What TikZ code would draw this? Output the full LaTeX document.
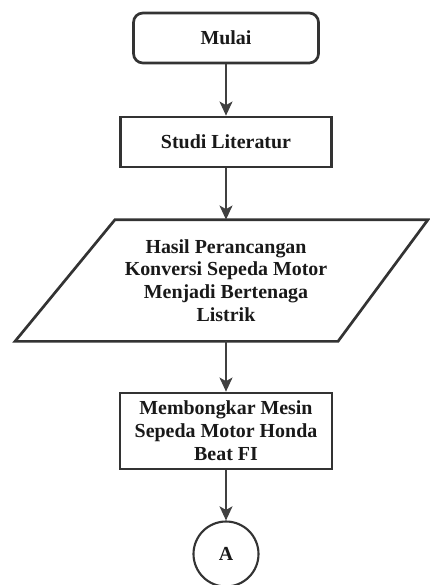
\documentclass[tikz,border=0pt]{standalone}
\usepackage{fontspec}
\setmainfont{Liberation Serif}
\usetikzlibrary{arrows.meta,calc}
\begin{document}
\begin{tikzpicture}[
    box/.style={draw=black!80,line width=2.3pt,fill=white,inner sep=0pt,align=center,
        font=\bfseries\fontsize{17}{19.5}\selectfont,text=black!90},
    arr/.style={draw=black!75,line width=1.8pt,-{Stealth[length=12pt,width=11pt,inset=3pt]}}
    ]
    \useasboundingbox (0,0) rectangle (12.87,-17.55);
    \node[box,rounded corners=8pt,minimum width=5.55cm,minimum height=1.5cm] (mulai) at (6.78,-1.14) {Mulai};
    \node[box,minimum width=6.33cm,minimum height=1.5cm] (studi) at (6.78,-4.26) {Studi Literatur};
    \node[box,draw=none,fill=none,minimum height=3.57cm] (hasil) at (6.78,-8.415)
        {Hasil Perancangan\\Konversi Sepeda Motor\\Menjadi Bertenaga\\Listrik};
    \node[box,minimum width=6.36cm,minimum height=2.28cm] (bongkar) at (6.78,-12.93)
        {Membongkar Mesin\\Sepeda Motor Honda\\Beat FI};
    \node[box,circle,line width=1.8pt,minimum size=1.95cm] (a) at (6.78,-16.62) {A};
    % parallelogram round the text
    \draw[draw=black!80,line width=2.3pt] ($(hasil.north)+(-3.33,0)$) -- ($(hasil.north)+(6.06,0)$)
        -- ($(hasil.south)+(3.36,0)$) -- ($(hasil.south)+(-6.33,0)$) -- cycle;
    \draw[arr] (mulai) -- (studi);
    \draw[arr] (studi) -- (hasil);
    \draw[arr] (hasil) -- (bongkar);
    \draw[arr] (bongkar) -- (a);
\end{tikzpicture}
\end{document}
